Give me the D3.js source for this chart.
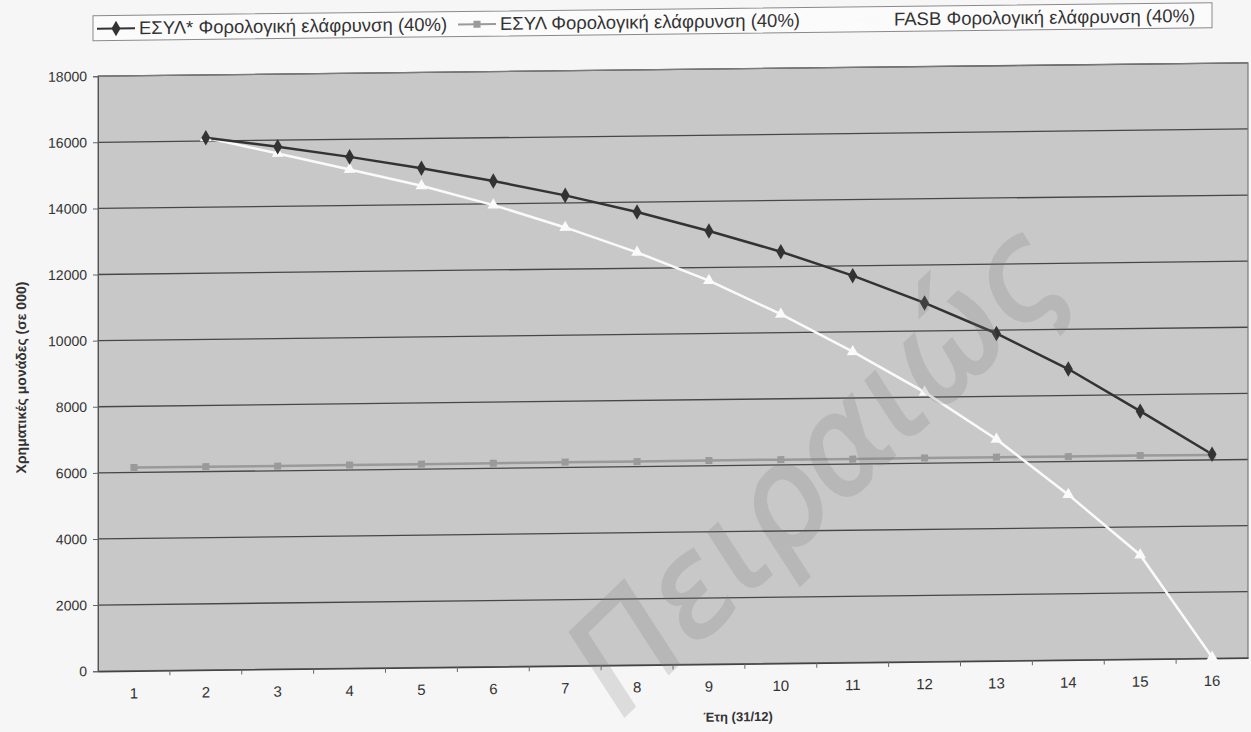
<!DOCTYPE html>
<html>
<head>
<meta charset="utf-8">
<script src="https://cdn.jsdelivr.net/npm/d3@7"></script>
<style>
  body { margin: 0; background: #f6f6f6; }
  text { font-family: "Liberation Sans", Arial, sans-serif; }
</style>
</head>
<body>
<div id="chart"></div>
<script>
// data
var years = ["1","2","3","4","5","6","7","8","9","10","11","12","13","14","15","16"];
var esylStar = [null, 16100, 15800, 15470, 15100, 14690, 14230, 13700, 13100, 12450, 11700, 10850, 9900, 8800, 7500, 6170];
var esyl = [6150, 6150, 6140, 6150, 6150, 6150, 6160, 6150, 6160, 6160, 6150, 6160, 6160, 6150, 6160, 6150];
var fasb = [null, 16100, 15600, 15090, 14570, 13960, 13260, 12480, 11600, 10560, 9400, 8150, 6700, 5000, 3150, 30];
var yTicks = [0, 2000, 4000, 6000, 8000, 10000, 12000, 14000, 16000, 18000];
var seriesNames = ["ΕΣΥΛ* Φορολογική ελάφρυνση (40%)", "ΕΣΥΛ Φορολογική ελάφρυνση (40%)", "FASB Φορολογική ελάφρυνση (40%)"];

function main(){
    var W = 1251, H = 732;
    var left = 98, right = 1248, top = 69.5, bottom = 664.5;

    var svg = d3.select("#chart").append("svg")
        .attr("width", W).attr("height", H);
    svg.append("rect").attr("width", W).attr("height", H).attr("fill", "#f6f6f6");

    // the scan is slightly skewed, so the whole chart gets the same tilt
    var k = -0.0116, cx = 673;
    var g = svg.append("g")
        .attr("transform", "matrix(1," + k + ",0,1,0," + (-k * cx) + ")");

    var x = d3.scaleBand().domain(years).range([left, right]);
    var y = d3.scaleLinear().domain([0, 18000]).range([bottom, top]);
    var xc = function(i){ return x(years[i]) + x.bandwidth() / 2; };

    // plot area
    g.append("rect")
        .attr("x", left).attr("y", top)
        .attr("width", right - left).attr("height", bottom - top)
        .attr("fill", "#c8c8c8");

    g.selectAll(".grid").data(yTicks.slice(1)).enter().append("line")
        .attr("x1", left).attr("x2", right)
        .attr("y1", function(d){ return y(d); }).attr("y2", function(d){ return y(d); })
        .attr("stroke", "#474747").attr("stroke-width", 1.3);

    g.append("rect")
        .attr("x", left).attr("y", top)
        .attr("width", right - left).attr("height", bottom - top)
        .attr("fill", "none").attr("stroke", "#7a7a7a").attr("stroke-width", 1.2);

    // y axis
    var yAxis = g.append("g")
        .attr("transform", "translate(" + left + ",0)")
        .call(d3.axisLeft(y).tickValues(yTicks).tickSize(5).tickPadding(6).tickFormat(function(d){ return d; }));
    yAxis.select(".domain").attr("stroke", "#555");
    yAxis.selectAll(".tick line").attr("stroke", "#666");
    yAxis.selectAll("text").attr("fill", "#333").style("font-size", "14px");

    // x axis: labels in the middle of each year, ticks between years
    var xAxis = g.append("g")
        .attr("transform", "translate(0," + bottom + ")")
        .call(d3.axisBottom(x).tickSize(0).tickPadding(17));
    xAxis.select(".domain").attr("stroke", "#444").attr("stroke-width", 1.5);
    xAxis.selectAll("text").attr("fill", "#333").style("font-size", "15px");
    xAxis.selectAll(".sep").data(years.slice(1)).enter().append("line")
        .attr("x1", function(d){ return x(d); }).attr("x2", function(d){ return x(d); })
        .attr("y1", 0).attr("y2", 5)
        .attr("stroke", "#666");

    // titles
    g.append("text")
        .attr("transform", "translate(26," + ((top + bottom) / 2 + 3) + ")rotate(-90)")
        .attr("text-anchor", "middle")
        .style("font-size", "14px").style("font-weight", "bold")
        .attr("fill", "#333")
        .text("Χρηματικές μονάδες (σε 000)");
    g.append("text")
        .attr("x", 738).attr("y", 722)
        .attr("text-anchor", "middle")
        .style("font-size", "13px").style("font-weight", "bold")
        .attr("fill", "#333")
        .text("Έτη (31/12)");

    // lines
    var line = d3.line()
        .defined(function(d){ return d != null; })
        .x(function(d, i){ return xc(i); })
        .y(function(d){ return y(d); });

    g.append("path").datum(esyl).attr("d", line)
        .attr("fill", "none").attr("stroke", "#9a9a9a").attr("stroke-width", 2.5);
    g.append("path").datum(fasb).attr("d", line)
        .attr("fill", "none").attr("stroke", "#fafafa").attr("stroke-width", 2.5);
    g.append("path").datum(esylStar).attr("d", line)
        .attr("fill", "none").attr("stroke", "#333").attr("stroke-width", 2.5);

    var sq = d3.symbol().type(d3.symbolSquare).size(50);
    var tri = d3.symbol().type(d3.symbolTriangle).size(60);
    var dia = d3.symbol().type(d3.symbolDiamond).size(70);

    g.selectAll(".sq").data(esyl).enter().append("path")
        .attr("d", sq)
        .attr("transform", function(d, i){ return "translate(" + xc(i) + "," + y(d) + ")"; })
        .attr("fill", "#9a9a9a");
    g.selectAll(".tri").data(fasb).enter().filter(function(d){ return d != null; }).append("path")
        .attr("d", tri)
        .attr("transform", function(d){ return "translate(" + xc(fasb.indexOf(d)) + "," + y(d) + ")"; })
        .attr("fill", "#fafafa");
    g.selectAll(".dia").data(esylStar).enter().filter(function(d){ return d != null; }).append("path")
        .attr("d", dia)
        .attr("transform", function(d){ return "translate(" + xc(esylStar.indexOf(d)) + "," + y(d) + ")"; })
        .attr("fill", "#333");

    // legend
    var lg = g.append("g");
    lg.append("rect")
        .attr("x", 93).attr("y", 9).attr("width", 1119).attr("height", 25)
        .attr("fill", "#fbfbfb").attr("stroke", "#8a8a8a");
    var lx = [97, 458, 852];
    var colors = ["#333", "#9a9a9a", "#fafafa"];
    var symbols = [dia, sq, tri];
    for (var i = 0; i < 3; i++){
        lg.append("line")
            .attr("x1", lx[i]).attr("x2", lx[i] + 38)
            .attr("y1", 22).attr("y2", 22)
            .attr("stroke", colors[i]).attr("stroke-width", 2);
        lg.append("path")
            .attr("d", symbols[i])
            .attr("transform", "translate(" + (lx[i] + 19) + ",22)")
            .attr("fill", colors[i]);
        lg.append("text")
            .attr("x", lx[i] + 42).attr("y", 28)
            .style("font-size", "18.5px").attr("fill", "#333")
            .text(seriesNames[i]);
    }

    // library watermark of the scan
    svg.append("text")
        .attr("transform", "translate(848,500)rotate(-44)")
        .attr("text-anchor", "middle")
        .style("font-family", "DejaVu Sans")
        .style("font-style", "italic")
        .style("font-size", "134px")
        .attr("fill", "#777").attr("stroke", "#777").attr("stroke-width", 3)
        .attr("opacity", 0.2)
        .text("Πειραιώς");
}

main();
</script>
</body>
</html>
